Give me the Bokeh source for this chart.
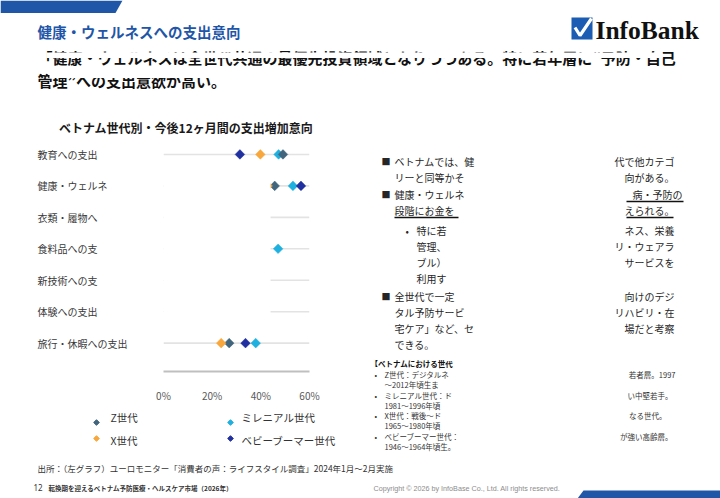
import math
from bokeh.plotting import figure
from bokeh.layouts import row, column
from bokeh.models import (Range1d, Label, FixedTicker, PrintfTickFormatter,
                          CustomJSTickFormatter, BoxAnnotation)
from bokeh.embed import file_html
from bokeh.resources import INLINE

# ---------------- data ----------------
categories = ["教育への支出", "健康・ウェルネスへの支出", "衣類・履物への支出",
              "食料品への支出", "新技術への支出", "体験への支出", "旅行・休暇への支出"]
visible_labels = ["教育への支出", "健康・ウェルネ", "衣類・履物へ", "食料品への支",
                  "新技術への支", "体験への支出", "旅行・休暇への支出"]
series = ["Z世代", "ミレニアル世代", "X世代", "ベビーブーマー世代"]
z_gen = [49.1, 45.7, None, None, None, None, 27.0]
millennial = [47.3, 53.2, None, 47.1, None, None, 37.9]
x_gen = [39.8, 42.8, None, None, None, None, 23.7]
boomer = [31.4, 56.5, None, None, None, None, 33.7]
x_ticks = [0, 20, 40, 60]
sample_label = "n=852"
redacted_rows = categories[1:6]

# ---------------- style ----------------
JP = "Noto Sans CJK JP"
BLUE = "#1f56a8"
series_colors = {"Z世代": "#41657c", "ミレニアル世代": "#1eb1e0",
                 "X世代": "#f8a73c", "ベビーブーマー世代": "#2130a0"}
series_values = {"Z世代": z_gen, "ミレニアル世代": millennial,
                 "X世代": x_gen, "ベビーブーマー世代": boomer}
draw_order = ["ミレニアル世代", "ベビーブーマー世代", "Z世代", "X世代"]
REDACT_RIGHT = 44.0


def pixel_fig(x0, y0, w, h):
    f = figure(width=w, height=h, x_range=Range1d(x0, x0 + w), y_range=Range1d(y0 + h, y0),
               min_border=0, toolbar_location=None, output_backend="svg",
               x_axis_location=None, y_axis_location=None)
    f.grid.visible = False
    f.outline_line_color = None
    f.background_fill_color = "white"
    f.border_fill_color = "white"
    return f


def lab(f, x, y, text, size, color="#262626", bold=False, align="left", font=JP, **kw):
    f.add_layout(Label(x=x, y=y, text=text, text_font=font, text_font_size=f"{size}px",
                       text_color=color, text_font_style="bold" if bold else "normal",
                       text_align=align, text_baseline="middle", **kw))


def mask(f, l, r, t, b):
    f.add_layout(BoxAnnotation(left=l, right=r, top=t, bottom=b, fill_color="white",
                               fill_alpha=1.0, line_color=None, line_alpha=0))


# ---------------- top header ----------------
top = pixel_fig(0, 0, 720, 100)
top.patch([0, 122, 115, 0], [0, 0, 12.5, 12.5], color=BLUE, line_color=None)
lab(top, 37, 31, "健康・ウェルネスへの支出意向", 14.5, color=BLUE, bold=True)
# logo
top.quad(left=571, right=592, top=17, bottom=39, color="#1c5cb3", line_color=None)
top.line([574.5, 579.5, 591], [27, 35, 18], line_color="white", line_width=3.2)
lab(top, 595, 29.5, "InfoBank", 25.5, color="#111111", bold=True, font="Liberation Serif")
# subtitle (partially redacted in the source image)
lab(top, 37, 57, "「健康・ウェルネスは全世代共通の最優先投資領域となりつつある。特に若年層に“予防・自己", 15,
    color="#111111", bold=True)
lab(top, 37, 80, "管理”への支出意欲が高い。", 15, color="#111111", bold=True)
mask(top, 46, 662, 52, 57.5)
mask(top, 49, 235, 70, 77.5)

# ---------------- chart title ----------------
tfig = pixel_fig(0, 100, 360, 35)
lab(tfig, 185.5, 127, "ベトナム世代別・今後12ヶ月間の支出増加意向", 12, color="#1a1a1a", bold=True,
    align="center")

# ---------------- dot chart ----------------
ypos = list(range(len(categories)))
y_range = Range1d(6.902, -0.602)

chart = figure(width=220, height=270, x_range=Range1d(x_ticks[0], x_ticks[-1]), y_range=y_range,
               toolbar_location=None, output_backend="svg", y_axis_location=None,
               min_border_left=23, min_border_right=51, min_border_top=0, min_border_bottom=27)
chart.grid.visible = False
chart.outline_line_color = None

chart.segment(x0=x_ticks[0], x1=x_ticks[-1], y0=ypos, y1=ypos, line_color="#e3e3e3", line_width=1.6)
for s in draw_order:
    vals = [float("nan") if v is None else v for v in series_values[s]]
    chart.scatter(x=vals, y=ypos, marker="square", angle=math.pi / 4, size=6.8,
                  fill_color=series_colors[s], line_color=series_colors[s], line_width=0.5)
# white redaction box present in the source image
red_pos = [categories.index(c) for c in redacted_rows]
chart.hbar(y=red_pos, left=x_ticks[0], right=REDACT_RIGHT, height=1.0, fill_color="white",
           line_color=None)

ax = chart.xaxis[0]
ax.ticker = FixedTicker(ticks=x_ticks)
ax.formatter = PrintfTickFormatter(format="%d%%")
ax.major_tick_line_color = None
ax.minor_tick_line_color = None
ax.axis_line_color = "#bfbfbf"
ax.axis_line_width = 2
ax.major_label_text_font = JP
ax.major_label_text_font_size = "10px"
ax.major_label_text_color = "#595959"
ax.major_label_standoff = 10

# category labels figure (right axis -> left-aligned labels)
labfig = figure(width=140, height=270, x_range=Range1d(0, 30), y_range=y_range,
                toolbar_location=None, output_backend="svg", x_axis_location=None,
                y_axis_location="right", min_border_left=0, min_border_right=110,
                min_border_top=0, min_border_bottom=27)
labfig.extra_y_ranges = {"py": Range1d(378, 135)}
labfig.grid.visible = False
labfig.outline_line_color = None
yax = labfig.yaxis[0]
yax.ticker = FixedTicker(ticks=ypos)
yax.formatter = CustomJSTickFormatter(args=dict(labels=visible_labels),
                                      code="return labels[Math.round(tick)] || '';")
yax.axis_line_color = None
yax.major_tick_line_color = None
yax.minor_tick_line_color = None
yax.major_tick_out = 0
yax.major_tick_in = 0
yax.major_label_standoff = 7
yax.major_label_text_font = JP
yax.major_label_text_font_size = "10px"
yax.major_label_text_color = "#3a3a3a"
lab(labfig, 37, 383, sample_label, 12, color="#262626", font="Noto Sans", y_range_name="py")

# ---------------- legend ----------------
leg = pixel_fig(0, 405, 360, 50)
lx, ly = [], []
for i, s in enumerate(series):
    col, rw = i % 2, i // 2
    lx.append(96 + 134 * col)
    ly.append(422 + 16 * rw)
    lab(leg, 110 + 131 * col, 417 + 23 * rw, s, 10.5, color="#333333")
leg.scatter(x=lx, y=ly, marker="square", angle=math.pi / 4, size=4,
            color=[series_colors[s] for s in series])

# ---------------- right text panel ----------------
rt = pixel_fig(360, 100, 360, 355)
T = "#262626"
FS = 10
RIGHT_EDGE = 674
main_lines = [
    (161, True, "ベトナムでは、健", "代で他カテゴ"),
    (177, False, "リーと同等かそ", "向がある。"),
    (194, True, "健康・ウェルネ", "病・予防の"),
    (210, False, "段階にお金を", "えられる。"),
    (296, True, "全世代で一定", "向けのデジ"),
    (312, False, "タル予防サービ", "リハビリ・在"),
    (328, False, "宅ケア」など、セ", "場だと考察"),
    (344, False, "できる。", ""),
]
for y, bullet, left, right in main_lines:
    if bullet:
        lab(rt, 381, y, "■", 9, color=T)
    lab(rt, 394, y, left, FS, color=T)
    if right:
        edge = 682 if right == "病・予防の" else RIGHT_EDGE
        lab(rt, edge, y, right, FS, color=T, align="right")
sub_lines = [(230, True, "特に若", "ネス、栄養"), (246, False, "管理、", "リ・ウェアラ"),
             (262, False, "ブル）", "サービスを"), (278, False, "利用す", "")]
for y, bullet, left, right in sub_lines:
    if bullet:
        lab(rt, 405, y, "•", FS, color=T)
    lab(rt, 416, y, left, FS, color=T)
    if right:
        lab(rt, RIGHT_EDGE, y, right, FS, color=T, align="right")
rt.segment(x0=[626, 394, 626], x1=[683, 458, 673], y0=[201, 217, 217], y1=[201, 217, 217],
           line_color="#111111", line_width=1.6)

GS = 7.5
lab(rt, 370, 363, "【ベトナムにおける世代", GS, color="#111111", bold=True)
gen_lines = [(374, True, "Z世代：デジタルネ", "若者層。1997", 675),
             (384, False, "～2012年頃生ま", "", 0),
             (395, True, "ミレニアル世代：ド", "い中堅若手。", 672),
             (405, False, "1981～1996年頃", "", 0),
             (415, True, "X世代：戦後～ド", "なる世代。", 666),
             (425, False, "1965～1980年頃", "", 0),
             (436, True, "ベビーブーマー世代：", "が強い高齢層。", 672),
             (446, False, "1946～1964年頃生。", "", 0)]
for y, bullet, left, right, edge in gen_lines:
    if bullet:
        lab(rt, 374, y, "•", GS, color="#333333")
    lab(rt, 384, y, left, GS, color="#333333")
    if right:
        lab(rt, edge, y, right, GS, color="#333333", align="right")

# ---------------- bottom ----------------
bot = pixel_fig(0, 455, 720, 43)
lab(bot, 37, 467, "出所：（左グラフ）ユーロモニター「消費者の声：ライフスタイル調査」2024年1月～2月実施", 8.5,
    color="#333333")
lab(bot, 33, 487, "12", 8, color="#333333", font="Noto Sans")
lab(bot, 48, 487.5, "転換期を迎えるベトナム予防医療・ヘルスケア市場（2026年）", 6.5, color="#333333", bold=True)
lab(bot, 373, 487.5, "Copyright © 2026 by InfoBase Co., Ltd. All rights reserved.", 7.2, color="#8c8c8c",
    font="Liberation Sans")
bot.patch([583, 720, 720, 577], [490, 490, 498, 498], color=BLUE, line_color=None)

layout = column(top,
                row(column(tfig, row(labfig, chart), leg), rt),
                bot)

open("out.html", "w").write(file_html(layout, INLINE))
